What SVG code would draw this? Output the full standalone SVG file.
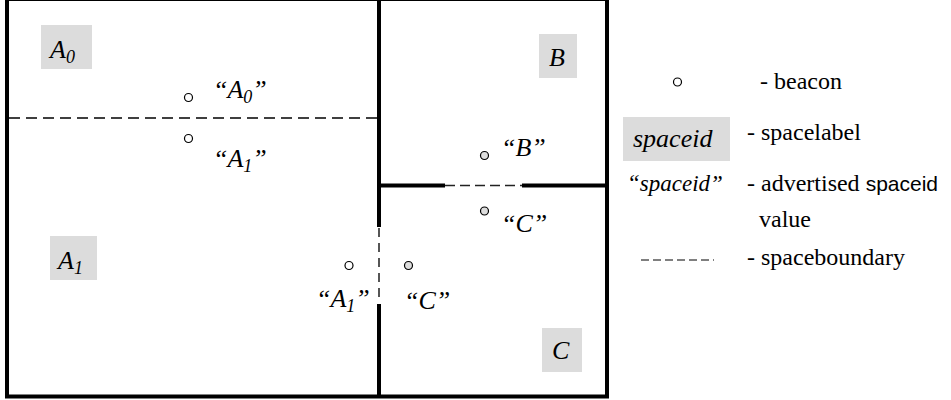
<svg xmlns="http://www.w3.org/2000/svg" width="951" height="400" viewBox="0 0 951 400">
<style>
.wall{stroke:#000;stroke-width:4;fill:none}
.bound{stroke:#000;stroke-width:1.3;stroke-dasharray:11 6;fill:none}
.doorh{stroke:#222;stroke-width:1.6;stroke-dasharray:10 5;fill:none}
.doorv{stroke:#555;stroke-width:2;stroke-dasharray:9 6;fill:none}
.lbl{fill:#dcdcdc}
.bc{fill:#fff;stroke:#000;stroke-width:1.2}
.bcg{fill:#ddd;stroke:#000;stroke-width:1.2}
</style>
<rect width="951" height="400" fill="#fff"/>
<g id="walls">
<polyline class="wall" points="379,-1 7,-1 7,396.5 607,396.5 607,-1 379,-1"/>
<line class="wall" x1="379" y1="0" x2="379" y2="227"/>
<line class="wall" x1="379" y1="304" x2="379" y2="396.5"/>
<line class="wall" x1="379" y1="185.5" x2="445" y2="185.5"/>
<line class="wall" x1="522" y1="185.5" x2="607" y2="185.5"/>
</g>
<g id="connectors">
<line class="bound" x1="9" y1="118" x2="377" y2="118"/>
<line class="doorh" x1="445" y1="185.5" x2="522" y2="185.5"/>
<line class="doorv" x1="379" y1="228" x2="379" y2="303"/>
</g>
<g font-family="Liberation Serif, Times New Roman, serif" font-style="italic" font-size="26" fill="#000">
<g id="space-A0">
<rect class="lbl" x="41" y="25" width="51" height="44"/>
<text x="50" y="58">A<tspan font-size="18" dy="5">0</tspan></text>
</g>
<g id="space-A1">
<rect class="lbl" x="50" y="236" width="47" height="44"/>
<text x="58" y="269">A<tspan font-size="18" dy="5">1</tspan></text>
</g>
<g id="space-B">
<rect class="lbl" x="539" y="34" width="38" height="44"/>
<text x="549" y="66">B</text>
</g>
<g id="space-C">
<rect class="lbl" x="542" y="328" width="40" height="44"/>
<text x="552" y="359">C</text>
</g>
<g id="beacon-A0">
<circle class="bc" cx="188.5" cy="97.5" r="4"/>
<text x="213" y="98">“A<tspan font-size="18" dy="5">0</tspan><tspan dy="-5">”</tspan></text>
</g>
<g id="beacon-A1-top">
<circle class="bc" cx="188.5" cy="138.5" r="4"/>
<text x="213" y="167">“A<tspan font-size="18" dy="5">1</tspan><tspan dy="-5">”</tspan></text>
</g>
<g id="beacon-B">
<circle class="bcg" cx="484.5" cy="155.5" r="4"/>
<text x="501" y="156">“B”</text>
</g>
<g id="beacon-C-top">
<circle class="bcg" cx="484.5" cy="211" r="4"/>
<text x="501" y="232">“C”</text>
</g>
<g id="beacon-A1-door">
<circle class="bc" cx="349" cy="265.5" r="4"/>
<text x="316" y="307">“A<tspan font-size="18" dy="5">1</tspan><tspan dy="-5">”</tspan></text>
</g>
<g id="beacon-C-door">
<circle class="bcg" cx="408.5" cy="265.5" r="4"/>
<text x="404" y="309">“C”</text>
</g>
</g>
<g id="legend" font-family="Liberation Serif, Times New Roman, serif" font-size="24" fill="#000">
<circle class="bc" cx="677.5" cy="82" r="4"/>
<text x="760" y="89">- beacon</text>
<rect class="lbl" x="623" y="117" width="107" height="44"/>
<text x="633" y="147" font-style="italic" font-size="26">spaceid</text>
<text x="747" y="140">- spacelabel</text>
<text x="627" y="191" font-style="italic" font-size="23">“spaceid”</text>
<text x="747" y="191">- advertised <tspan font-family="Liberation Sans, Arial, sans-serif" font-size="21">spaceid</tspan></text>
<text x="759" y="227">value</text>
<line x1="641" y1="260" x2="714" y2="260" stroke="#000" stroke-width="1" stroke-dasharray="8 4"/>
<text x="747" y="265">- spaceboundary</text>
</g>
</svg>
